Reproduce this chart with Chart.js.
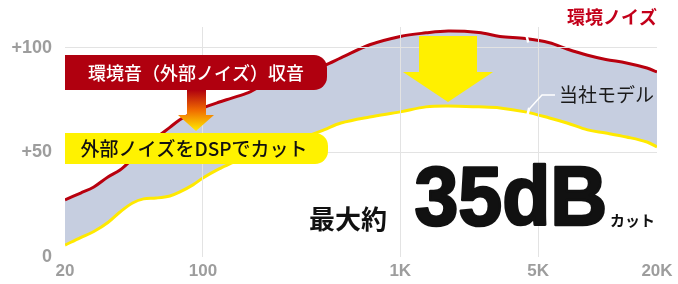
<!DOCTYPE html>
<html>
<head>
<meta charset="utf-8">
<script src="https://cdn.jsdelivr.net/npm/chart.js@4.4.1/dist/chart.umd.min.js"></script>
<style>
    html, body { margin: 0; padding: 0; background: #fff; }
    #wrap { width: 678px; height: 284px; }
</style>
</head>
<body>
<div id="wrap"><canvas id="noiseChart" width="678" height="284"></canvas></div>
<script>
// frequency (Hz) and level readings
const freqs = [20, 24, 28, 33, 38, 44, 50, 58, 68, 76, 89, 100, 120, 140, 170, 200, 260, 330, 410, 500, 700, 1000, 1350, 1750, 2500, 3200, 4300, 5700, 7000, 8900, 11000, 14000, 17800, 20000];
const ambientNoise = [27.3, 30.6, 33.5, 38.3, 41.6, 47, 52, 57, 62, 65.5, 69, 71.3, 74, 76, 78.6, 82, 85, 88.5, 91.5, 95.2, 101.5, 105.5, 107.2, 108.1, 107.4, 105.5, 104.5, 102.5, 99.5, 96.5, 94.5, 92.8, 90.4, 88.5];
const ourModel = [5.7, 9.3, 12.2, 16.5, 21.5, 25.8, 27.8, 28.2, 29.2, 31, 34.5, 37.8, 42, 45, 48.5, 51, 54.5, 57.5, 60.8, 64.1, 67, 69.4, 71.8, 72.2, 71.8, 71.3, 69.4, 66.5, 64.1, 60.8, 59.3, 57.4, 55, 52.6];

const xTicks = [20, 100, 1000, 5000, 20000];
const xTickLabels = ['20', '100', '1K', '5K', '20K'];
const yTicks = [0, 50, 100];
const yTickLabels = ['0', '+50', '+100'];

const seriesNames = ['環境ノイズ', '当社モデル'];
const gapFreq = 4400;

const latin = '"Liberation Sans", Arial, sans-serif';
const jp = '"Noto Sans CJK JP", "Noto Sans", sans-serif';
const axisGrey = '#9d9d9d';
const gridColor = '#e3e3e3';

function tagPath(ctx, x0, y0, x1, y1, r) {
    ctx.beginPath();
    ctx.moveTo(x0, y0);
    ctx.lineTo(x1 - r, y0);
    ctx.arcTo(x1, y0, x1, y0 + r, r);
    ctx.lineTo(x1, y1 - r);
    ctx.arcTo(x1, y1, x1 - r, y1, r);
    ctx.lineTo(x0, y1);
    ctx.closePath();
}

// stretch a string so its ink fills the given box (stroked a little for weight)
function fitText(ctx, text, left, top, right, bottom, weight) {
    ctx.textAlign = 'left';
    ctx.textBaseline = 'alphabetic';
    const m = ctx.measureText(text);
    const w = m.actualBoundingBoxLeft + m.actualBoundingBoxRight;
    const h = m.actualBoundingBoxAscent + m.actualBoundingBoxDescent;
    const sx = (right - left - weight) / w;
    const sy = (bottom - top - weight) / h;
    ctx.save();
    ctx.translate(left + weight / 2, top + weight / 2);
    ctx.scale(sx, sy);
    ctx.fillText(text, m.actualBoundingBoxLeft, m.actualBoundingBoxAscent);
    ctx.lineWidth = weight / sx;
    ctx.lineJoin = 'round';
    ctx.strokeStyle = ctx.fillStyle;
    ctx.strokeText(text, m.actualBoundingBoxLeft, m.actualBoundingBoxAscent);
    ctx.restore();
}

const calloutPlugin = {
    id: 'callouts',
    afterDraw(chart) {
        const ctx = chart.ctx;
        const xs = chart.scales.x;
        const ys = chart.scales.y;
        const gi = freqs.indexOf(4300);
        const gx = xs.getPixelForValue(gapFreq);
        const redY = ys.getPixelForValue(ambientNoise[gi]);
        const yelY = ys.getPixelForValue(ourModel[gi]);

        ctx.save();

        // small white breaks in both lines + leader to the model label
        ctx.strokeStyle = '#fff';
        ctx.lineWidth = 2.5;
        ctx.beginPath();
        ctx.moveTo(gx - 1, redY - 4);
        ctx.lineTo(gx + 1, redY + 4);
        ctx.stroke();
        ctx.beginPath();
        ctx.moveTo(gx, yelY + 4);
        ctx.lineTo(gx + 2, yelY - 4);
        ctx.stroke();
        ctx.lineWidth = 1.5;
        ctx.beginPath();
        ctx.moveTo(gx + 2, yelY - 3);
        ctx.lineTo(542, 95);
        ctx.lineTo(555, 95);
        ctx.stroke();

        // big yellow arrow
        ctx.fillStyle = '#fff000';
        ctx.beginPath();
        ctx.moveTo(419, 36);
        ctx.lineTo(477, 36);
        ctx.lineTo(477, 72);
        ctx.lineTo(493, 72);
        ctx.lineTo(448, 102);
        ctx.lineTo(403, 72);
        ctx.lineTo(419, 72);
        ctx.closePath();
        ctx.fill();

        // red tag
        tagPath(ctx, 65, 55, 327, 90, 13);
        ctx.fillStyle = '#b0000f';
        ctx.fill();
        ctx.fillStyle = '#fff';
        ctx.font = '500 18px ' + jp;
        ctx.textAlign = 'center';
        ctx.textBaseline = 'middle';
        ctx.fillText('環境音（外部ノイズ）収音', 196, 73);

        // orange arrow between the tags
        const grad = ctx.createLinearGradient(0, 90, 0, 130);
        grad.addColorStop(0, '#b0000f');
        grad.addColorStop(0.5, '#f06a00');
        grad.addColorStop(1, '#ffe600');
        ctx.fillStyle = grad;
        ctx.beginPath();
        ctx.moveTo(187, 90);
        ctx.lineTo(206, 90);
        ctx.lineTo(206, 115);
        ctx.lineTo(214, 115);
        ctx.lineTo(196, 131);
        ctx.lineTo(178, 115);
        ctx.lineTo(187, 115);
        ctx.closePath();
        ctx.fill();

        // yellow tag
        tagPath(ctx, 65, 133, 328, 164, 13);
        ctx.fillStyle = '#fff200';
        ctx.fill();
        ctx.fillStyle = '#111';
        ctx.font = '500 19px ' + jp;
        ctx.fillText('外部ノイズをDSPでカット', 194, 149);

        // series labels
        ctx.font = 'bold 18px ' + jp;
        ctx.fillStyle = '#c3001a';
        ctx.textAlign = 'right';
        ctx.fillText(seriesNames[0], 657, 17);
        ctx.font = '19px ' + jp;
        ctx.fillStyle = '#1a1a1a';
        ctx.textAlign = 'left';
        ctx.fillText(seriesNames[1], 559, 95);

        // headline
        ctx.fillStyle = '#111';
        ctx.font = 'bold 26px ' + jp;
        ctx.textBaseline = 'alphabetic';
        ctx.fillText('最大約', 309, 229);
        ctx.font = 'bold 90px ' + latin;
        fitText(ctx, '35dB', 415, 163, 605, 227, 2.5);
        ctx.font = 'bold 15px ' + jp;
        ctx.textAlign = 'left';
        ctx.textBaseline = 'alphabetic';
        ctx.fillText('カット', 610, 226);

        ctx.restore();
    },
};

new Chart(document.getElementById('noiseChart'), {
    type: 'line',
    data: {
        datasets: [
            {
                label: seriesNames[0],
                data: freqs.map((f, i) => ({ x: f, y: ambientNoise[i] })),
                borderColor: '#b8000e',
                borderWidth: 3,
                pointRadius: 0,
                tension: 0.35,
                fill: false,
            },
            {
                label: seriesNames[1],
                data: freqs.map((f, i) => ({ x: f, y: ourModel[i] })),
                borderColor: '#ffe900',
                backgroundColor: '#c6cee0',
                borderWidth: 3,
                pointRadius: 0,
                tension: 0.35,
                fill: '-1',
            },
        ],
    },
    options: {
        responsive: false,
        animation: false,
        events: [],
        layout: { padding: { top: 27, right: 21, bottom: 0, left: 0 } },
        plugins: {
            legend: { display: false },
            tooltip: { enabled: false },
        },
        scales: {
            x: {
                type: 'logarithmic',
                min: 20,
                max: 20000,
                afterBuildTicks: (scale) => { scale.ticks = xTicks.map((v) => ({ value: v })); },
                afterFit: (scale) => { scale.height = 27; },
                border: { display: false },
                grid: {
                    z: 1,
                    drawTicks: false,
                    color: (c) => (c.tick && (c.tick.value === 20 || c.tick.value === 20000)) ? 'rgba(0,0,0,0)' : gridColor,
                },
                ticks: {
                    autoSkip: false,
                    maxRotation: 0,
                    padding: 4,
                    color: axisGrey,
                    font: { family: latin, size: 17, weight: 'bold' },
                    callback: (v) => xTickLabels[xTicks.indexOf(v)],
                },
            },
            y: {
                min: 0,
                max: 110,
                afterBuildTicks: (scale) => { scale.ticks = yTicks.map((v) => ({ value: v })); },
                afterFit: (scale) => { scale.width = 65; },
                border: { display: false },
                grid: {
                    z: 1,
                    drawTicks: false,
                    color: (c) => (c.tick && c.tick.value === 0) ? 'rgba(0,0,0,0)' : gridColor,
                },
                ticks: {
                    padding: 13,
                    color: axisGrey,
                    font: { family: latin, size: 18, weight: 'bold' },
                    callback: (v) => yTickLabels[yTicks.indexOf(v)],
                },
            },
        },
    },
    plugins: [calloutPlugin],
});
</script>
</body>
</html>
